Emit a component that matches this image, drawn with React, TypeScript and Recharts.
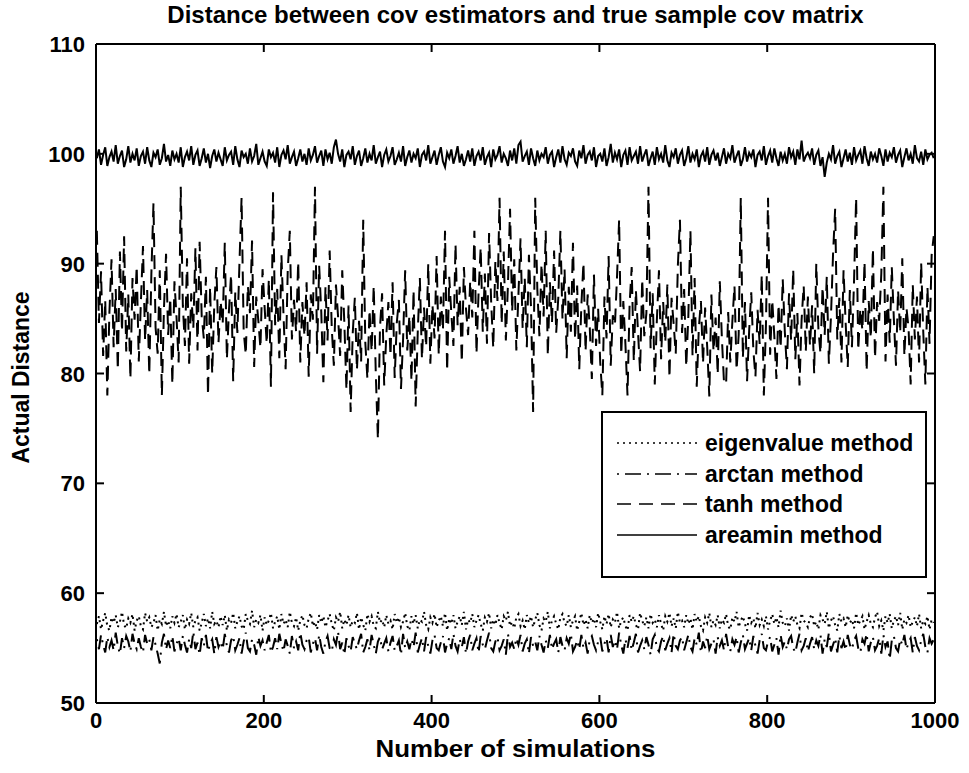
import { LineChart, Line, XAxis, YAxis, ReferenceLine, Legend } from "recharts";

const FONT = '"Liberation Sans", Arial, Helvetica, sans-serif';

const TITLE = "Distance between cov estimators and true sample cov matrix";
const X_LABEL = "Number of simulations";
const Y_LABEL = "Actual Distance";

const X_TICKS = [0, 200, 400, 600, 800, 1000];
const Y_TICKS = [50, 60, 70, 80, 90, 100, 110];

const SIM_STEP = 2.5;

const EIGENVALUE = [
  57.2, 57.9, 56.7, 57.5, 58.2, 57.0, 56.6, 57.8, 57.3, 58.0, 56.9, 57.4, 58.3, 57.1, 56.8, 57.7, 57.3, 58.1, 56.6, 57.5,
  57.9, 57.0, 56.7, 58.2, 57.4, 57.8, 56.9, 57.3, 58.0, 56.6, 57.6, 57.2, 58.3, 57.0, 57.5, 56.8, 57.9, 57.3, 58.1, 56.9,
  57.4, 58.0, 56.7, 57.6, 57.2, 58.2, 56.9, 57.5, 57.8, 56.6, 57.3, 58.1, 57.0, 57.7, 56.8, 58.3, 57.2, 57.5, 56.9, 57.9,
  57.1, 58.0, 56.6, 57.6, 57.3, 58.2, 56.8, 57.4, 57.9, 57.0, 56.7, 58.1, 57.5, 57.2, 58.4, 56.9, 57.6, 57.3, 58.0, 56.6,
  57.8, 57.1, 57.5, 58.2, 56.8, 57.4, 57.9, 56.7, 58.1, 57.2, 57.6, 56.9, 58.3, 57.3, 57.0, 57.8, 56.6, 57.5, 58.0, 57.1,
  56.8, 57.7, 58.2, 57.0, 57.4, 56.7, 58.0, 57.3, 57.9, 56.9, 57.5, 58.1, 57.2, 56.6, 57.8, 57.4, 58.3, 56.8, 57.6, 57.1,
  58.0, 56.9, 57.5, 57.3, 58.2, 56.7, 57.8, 57.1, 56.6, 58.1, 57.4, 57.9, 57.0, 56.8, 58.3, 57.3, 57.6, 56.9, 58.0, 57.2,
  57.5, 56.7, 58.1, 57.3, 57.8, 56.9, 57.4, 58.2, 57.0, 56.6, 57.9, 57.2, 58.0, 56.8, 57.6, 57.4, 58.3, 57.1, 56.7, 57.8,
  57.3, 58.1, 56.9, 57.5, 57.9, 57.0, 58.2, 56.6, 57.7, 57.2, 58.0, 56.8, 57.4, 57.9, 57.1, 58.3, 56.7, 57.6, 57.3, 58.1,
  56.9, 57.5, 58.0, 57.2, 56.6, 57.8, 57.4, 58.2, 56.8, 57.6, 57.1, 58.0, 57.3, 56.7, 57.9, 57.5, 58.3, 57.0, 57.4, 56.8,
  57.8, 58.1, 57.0, 57.5, 56.7, 58.0, 57.3, 57.9, 56.9, 57.6, 58.2, 57.1, 56.6, 57.7, 57.4, 58.3, 56.8, 57.5, 57.9, 57.2,
  56.7, 57.8, 58.1, 57.3, 57.0, 58.0, 56.9, 57.5, 57.9, 56.6, 57.4, 58.2, 57.1, 57.6, 56.8, 58.0, 57.3, 57.7, 56.9, 58.2,
  57.4, 56.7, 57.9, 57.2, 58.1, 56.9, 57.6, 57.3, 58.3, 56.8, 57.5, 57.8, 57.0, 56.6, 58.0, 57.4, 57.9, 57.1, 56.7, 58.2,
  57.5, 57.0, 57.8, 56.8, 58.1, 57.3, 57.6, 56.9, 58.0, 57.2, 56.6, 57.9, 57.4, 58.2, 57.0, 57.7, 56.8, 58.3, 57.3, 57.5,
  56.9, 58.0, 57.2, 57.7, 56.7, 58.1, 57.4, 57.9, 57.0, 56.6, 57.8, 57.3, 58.2, 56.9, 57.5, 57.1, 58.0, 56.8, 57.6, 57.3,
  58.1, 57.0, 56.7, 57.8, 57.4, 58.3, 56.9, 57.5, 57.9, 57.2, 56.6, 58.0, 57.3, 57.7, 56.8, 58.2, 57.1, 57.6, 57.0, 57.9,
  56.7, 57.5, 58.1, 57.2, 57.8, 56.9, 58.4, 57.3, 57.0, 57.7, 56.6, 58.0, 57.4, 57.9, 57.1, 56.8, 58.2, 57.5, 57.3, 56.9,
  57.8, 58.1, 57.0, 57.4, 56.7, 58.0, 57.6, 57.2, 58.3, 56.8, 57.5, 57.9, 57.1, 56.6, 58.1, 57.4, 57.7, 56.9, 58.0, 57.3,
  57.6, 56.8, 58.2, 57.1, 57.5, 57.9, 56.7, 57.4, 58.0, 57.2, 56.9, 57.8, 58.3, 57.0, 57.5, 56.6, 57.9, 57.3, 58.1, 56.8,
  57.5, 57.9, 57.1, 58.2, 56.7, 57.6, 57.3, 58.0, 56.9, 57.4, 57.8, 57.0, 58.1, 56.8, 57.5, 57.2, 57.9, 56.7, 57.6, 57.3,
];

const ARCTAN = [
  55.8, 54.9, 56.2, 55.3, 54.6, 56.0, 55.1, 55.7, 54.8, 56.4, 55.2, 54.5, 55.9, 55.0, 56.1, 55.6, 54.7, 56.3, 55.4, 54.9,
  55.9, 55.1, 54.6, 56.2, 55.4, 55.8, 54.8, 56.0, 55.3, 54.5, 53.6, 55.5, 56.3, 54.9, 55.7, 55.0, 56.1, 54.7, 55.4, 55.9,
  54.8, 56.1, 55.3, 54.6, 55.8, 55.0, 56.5, 54.9, 55.5, 54.4, 55.9, 55.2, 56.2, 54.7, 55.4, 55.8, 54.5, 56.0, 55.1, 55.6,
  54.9, 56.3, 55.2, 54.6, 55.7, 56.1, 54.8, 55.3, 55.9, 54.5, 55.6, 56.4, 55.0, 54.7, 55.8, 55.3, 54.4, 56.0, 55.2, 55.7,
  54.8, 55.5, 56.2, 54.6, 55.1, 55.9, 54.9, 56.3, 55.4, 54.7, 55.8, 55.2, 54.5, 56.1, 55.0, 55.6, 54.8, 56.4, 55.3, 54.9,
  55.7, 56.0, 54.6, 55.4, 55.9, 54.8, 56.2, 55.1, 54.5, 55.6, 56.1, 55.0, 54.7, 55.8, 55.3, 56.5, 54.9, 55.5, 54.4, 55.9,
  55.2, 54.7, 56.0, 55.4, 54.9, 55.7, 56.3, 54.6, 55.1, 55.8, 54.8, 56.2, 55.3, 54.5, 55.6, 56.0, 54.9, 55.4, 55.9, 54.7,
  55.5, 56.1, 54.8, 55.2, 55.7, 54.4, 56.3, 55.0, 55.6, 54.9, 55.8, 55.1, 56.4, 54.6, 55.3, 55.9, 54.7, 56.0, 55.2, 54.5,
  55.7, 56.2, 55.0, 54.8, 55.5, 56.1, 54.6, 55.4, 55.9, 54.9, 56.3, 55.2, 54.7, 55.8, 55.1, 56.0, 54.5, 55.6, 56.2, 54.8,
  55.4, 55.9, 54.6, 56.1, 55.3, 54.9, 55.7, 56.4, 55.0, 54.7, 55.6, 56.0, 54.8, 55.2, 55.8, 54.4, 56.3, 55.1, 55.5, 54.9,
  55.9, 55.3, 56.2, 54.7, 55.4, 55.8, 54.5, 56.0, 55.2, 55.6, 54.8, 56.1, 55.3, 54.6, 55.7, 55.0, 56.2, 54.9, 55.4, 55.8,
  54.6, 56.0, 55.2, 54.8, 55.9, 55.4, 56.3, 54.7, 55.1, 55.7, 54.9, 56.2, 55.0, 55.5, 54.5, 55.8, 56.1, 55.3, 54.8, 55.6,
  56.0, 54.7, 55.4, 55.9, 54.6, 56.2, 55.1, 55.7, 54.9, 56.4, 55.3, 54.5, 55.8, 55.0, 56.1, 54.8, 55.5, 56.3, 54.6, 55.2,
  55.7, 54.9, 56.0, 55.3, 54.4, 55.8, 56.2, 55.0, 54.7, 55.6, 56.1, 54.8, 55.4, 55.9, 54.6, 56.3, 55.2, 54.9, 55.7, 56.0,
  54.8, 55.5, 56.2, 55.1, 54.7, 55.9, 55.3, 56.4, 54.6, 55.6, 55.0, 56.1, 54.9, 55.4, 55.8, 54.5, 56.0, 55.2, 55.7, 54.8,
  56.3, 55.1, 54.7, 55.8, 55.3, 56.0, 54.6, 55.5, 56.2, 54.9, 55.4, 55.9, 54.8, 56.1, 55.2, 54.5, 55.7, 56.3, 55.0, 54.8,
  55.6, 56.0, 54.7, 55.3, 55.9, 54.4, 56.2, 55.1, 55.6, 54.9, 55.8, 56.1, 55.0, 54.6, 55.5, 56.3, 54.8, 55.2, 55.9, 54.7,
  55.4, 56.0, 54.9, 55.7, 55.2, 56.2, 54.5, 55.8, 55.1, 56.4, 54.7, 55.3, 55.9, 54.6, 56.1, 55.0, 55.6, 54.8, 56.2, 55.3,
  54.9, 55.7, 56.1, 55.0, 54.6, 55.8, 55.4, 56.3, 54.7, 55.5, 56.0, 54.8, 55.2, 55.9, 54.5, 56.2, 55.1, 55.6, 54.0, 55.7,
  56.1, 55.0, 54.7, 55.8, 55.3, 56.2, 54.9, 55.5, 55.9, 54.6, 56.0, 55.2, 54.8, 55.7, 56.3, 55.1, 54.6, 55.9, 55.4, 55.8,
];

const TANH = [
  93, 84.6, 89.3, 81.6, 86.7, 78, 85.6, 90.4, 82.4, 87.7, 80.3, 91.1, 83.8, 92.5, 82.0, 87.2, 79.5, 88.7, 84.9, 89.8,
  81.1, 86.5, 91.6, 83.0, 87.6, 79.9, 89.1, 95.5, 84.2, 81.8, 89.4, 78, 85.9, 90.9, 83.5, 86.9, 79.0, 88.4, 85.1, 81.0,
  97, 86.2, 82.5, 90.5, 80.9, 87.3, 84.1, 91.4, 82.1, 92, 85.2, 83.2, 88.8, 78, 87.9, 80.0, 86.3, 89.7, 82.8, 86.6,
  84.5, 91.9, 81.3, 85.8, 89.0, 79.3, 87.4, 83.7, 90.1, 96, 83.9, 81.7, 88.0, 85.5, 92.1, 80.6, 87.0, 84.8, 82.3, 89.5,
  86.0, 82.7, 88.6, 78.8, 96.5, 84.4, 87.7, 81.4, 90.8, 85.3, 80.4, 89.3, 93, 83.1, 86.7, 83.8, 90.2, 81.0, 86.5, 83.4,
  88.3, 79.7, 87.2, 84.9, 97, 81.8, 89.8, 85.6, 79.2, 87.9, 83.0, 91.2, 84.1, 80.7, 88.1, 85.2, 81.6, 89.4, 84.6, 78.5,
  86.2, 76.5, 83.7, 86.9, 80.3, 84.8, 81.1, 94, 82.8, 79.5, 85.8, 82.0, 88.0, 79.9, 74, 84.2, 87.3, 78.9, 83.5, 86.5,
  81.6, 88.3, 79.6, 84.6, 86.7, 78.6, 83.1, 89.4, 82.1, 85.3, 79.3, 87.6, 77, 83.8, 88.7, 81.3, 86.0, 82.4, 90.0, 80.9,
  86.3, 83.2, 90.7, 81.7, 87.0, 83.9, 93, 80.2, 88.8, 85.5, 82.5, 91.8, 84.4, 87.9, 81.0, 89.7, 85.9, 83.5, 88.4, 85.1,
  93, 81.8, 87.4, 91.5, 83.8, 89.1, 82.7, 92.8, 86.5, 82.3, 90.2, 86.6, 96, 84.5, 91.1, 83.0, 88.1, 95, 85.6, 90.4,
  82.1, 87.2, 92.3, 84.1, 88.7, 82.4, 90.8, 86.0, 76.5, 96, 87.7, 83.4, 90.0, 85.2, 93.0, 81.6, 88.3, 84.6, 91.2, 83.7,
  86.9, 93, 84.9, 89.5, 81.4, 87.9, 83.8, 91.9, 83.1, 88.0, 80.4, 86.2, 90.1, 82.0, 87.2, 84.2, 79.5, 89.0, 82.5, 85.9,
  81.0, 78, 87.0, 83.2, 90.7, 80.7, 85.3, 84.4, 88.8, 94, 81.7, 86.6, 82.7, 78, 86.3, 89.7, 81.1, 87.6, 83.8, 80.2,
  88.6, 83.4, 85.5, 97, 82.3, 87.3, 79.0, 84.9, 89.4, 81.3, 86.5, 82.8, 88.1, 79.6, 86.9, 84.5, 81.8, 89.8, 94, 83.7,
  87.7, 80.6, 85.2, 93, 81.6, 88.7, 78.8, 84.1, 86.6, 80.9, 86.0, 82.4, 77.9, 87.2, 82.0, 85.1, 79.9, 88.4, 83.2, 79.2,
  79, 85.6, 81.0, 84.8, 88.0, 80.3, 83.5, 96, 81.4, 86.5, 79.3, 83.9, 87.4, 82.1, 79.7, 85.8, 82.7, 89.0, 78, 84.4,
  96, 81.7, 86.7, 83.4, 79.5, 86.3, 82.3, 88.6, 83.8, 80.4, 87.3, 83.0, 89.5, 81.3, 85.5, 78.9, 84.9, 88.0, 82.0, 87.0,
  82.5, 86.2, 80.0, 90.0, 84.1, 81.8, 87.9, 83.5, 88.8, 80.9, 85.2, 90.9, 95, 83.1, 86.9, 81.0, 89.4, 84.6, 80.6, 87.6,
  82.4, 88.4, 96, 82.1, 85.9, 83.9, 90.2, 80.2, 86.6, 83.2, 91.4, 81.4, 86.5, 84.8, 89.1, 97, 81.1, 87.2, 82.8, 89.7,
  84.9, 80.7, 87.6, 83.7, 90.5, 81.6, 86.0, 84.1, 79.0, 88.1, 83.1, 87.0, 81.0, 90.1, 83.8, 79, 87.9, 82.7, 90.8, 92.5,
];

const AREAMIN = [
  99.6, 100.4, 99.0, 99.9, 100.6, 98.9, 99.7, 100.2, 99.3, 100.8, 99.1, 99.8, 100.3, 98.8, 99.5, 100.7, 99.2, 100.0, 99.4, 100.5,
  98.9, 99.8, 100.2, 99.1, 100.6, 99.4, 98.8, 100.1, 99.7, 100.4, 99.0, 99.6, 100.9, 99.3, 99.9, 98.9, 100.3, 99.5, 100.0, 99.2,
  100.6, 98.8, 99.7, 100.2, 99.4, 100.7, 99.0, 99.9, 100.3, 98.9, 99.6, 100.5, 99.2, 100.0, 98.7, 99.8, 100.4, 99.3, 100.1, 99.5,
  98.9, 100.6, 99.4, 99.9, 100.2, 99.0, 100.7, 99.5, 98.8, 100.3, 99.7, 100.0, 99.1, 100.5, 99.3, 99.8, 100.9, 99.0, 99.6, 100.2,
  99.3, 98.9, 100.4, 99.7, 100.1, 99.2, 100.6, 98.8, 99.9, 100.3, 99.5, 100.8, 99.1, 99.7, 100.2, 98.9, 99.6, 100.4, 99.3, 100.0,
  99.0, 100.5, 99.4, 99.9, 100.7, 99.2, 99.8, 100.3, 98.9, 100.4, 99.5, 100.1, 99.1, 100.6, 101.3, 100.0, 99.3, 100.4, 98.8, 99.9,
  100.2, 99.5, 100.7, 99.0, 99.8, 100.3, 98.9, 99.6, 100.5, 99.2, 100.0, 99.4, 100.8, 99.1, 99.7, 100.2, 98.8, 99.9, 100.4, 99.3,
  99.8, 100.6, 99.0, 99.5, 100.1, 99.3, 100.7, 98.9, 99.7, 100.3, 99.2, 100.0, 99.6, 100.5, 98.8, 99.9, 100.2, 99.4, 100.8, 99.1,
  99.7, 100.3, 99.0, 99.9, 100.6, 99.3, 98.8, 100.1, 99.6, 100.4, 99.1, 99.8, 100.7, 99.2, 100.0, 98.9, 99.5, 100.3, 99.3, 100.5,
  98.9, 99.8, 100.2, 99.4, 100.6, 99.0, 99.7, 100.1, 98.8, 100.4, 99.5, 99.9, 100.7, 99.2, 100.0, 99.6, 98.9, 100.3, 99.4, 100.5,
  99.1, 100.8, 101.1, 99.3, 99.8, 100.2, 99.0, 100.5, 99.6, 98.9, 100.3, 99.4, 100.0, 99.7, 100.6, 99.1, 99.9, 100.2, 98.8, 99.7,
  100.4, 99.2, 100.7, 99.5, 99.0, 100.1, 99.8, 100.5, 99.3, 98.9, 100.3, 99.6, 100.8, 99.1, 99.9, 100.2, 99.4, 100.6, 98.8, 99.8,
  100.0, 99.3, 100.5, 98.9, 99.7, 100.9, 99.2, 100.1, 99.5, 100.4, 98.8, 99.9, 100.3, 99.0, 100.6, 99.4, 99.8, 100.2, 99.1, 100.7,
  99.3, 99.9, 100.4, 98.9, 99.6, 100.2, 99.0, 100.6, 99.5, 100.0, 99.2, 100.8, 99.4, 98.8, 100.1, 99.7, 100.5, 99.1, 99.9, 100.3,
  98.9, 99.6, 100.7, 99.2, 100.0, 99.5, 100.4, 98.8, 99.8, 100.2, 99.3, 100.6, 99.0, 99.9, 100.3, 99.4, 100.1, 98.9, 99.7, 100.5,
  99.1, 100.0, 99.6, 100.8, 99.2, 99.8, 100.3, 98.9, 99.5, 100.6, 99.3, 100.1, 99.7, 100.4, 98.8, 99.9, 100.2, 99.4, 100.7, 99.0,
  99.8, 100.3, 99.2, 100.5, 99.6, 98.9, 100.2, 99.4, 100.0, 99.1, 100.6, 99.7, 100.2, 99.0, 100.4, 99.5, 101.2, 99.3, 99.8, 100.1,
  99.6, 100.5, 99.0, 99.9, 100.3, 98.9, 99.7, 97.9, 99.2, 100.0, 99.5, 100.8, 99.1, 99.8, 100.2, 98.8, 99.6, 100.4, 99.3, 100.1,
  99.0, 100.6, 99.4, 99.9, 100.3, 99.1, 100.7, 99.6, 98.9, 100.2, 99.5, 100.0, 99.2, 100.5, 99.8, 98.9, 100.4, 99.3, 100.1, 99.7,
  100.6, 99.2, 99.9, 100.3, 98.8, 99.7, 100.5, 99.4, 100.0, 99.1, 100.8, 99.6, 99.3, 100.2, 99.0, 100.4, 99.5, 99.9, 100.1, 99.6,
];

const SERIES = [
  { key: "eigenvalue", name: "eigenvalue method", dash: "2 4" },
  { key: "arctan", name: "arctan method", dash: "2 6 16 6" },
  { key: "tanh", name: "tanh method", dash: "14 8" },
  { key: "areamin", name: "areamin method", dash: undefined },
];

const data = AREAMIN.map((v, i) => ({
  sim: 1 + i * SIM_STEP,
  eigenvalue: EIGENVALUE[i],
  arctan: ARCTAN[i],
  tanh: TANH[i],
  areamin: v,
}));

const W = 969;
const H = 773;
const PLOT_LEFT = 96;
const PLOT_TOP = 44;
const PLOT_RIGHT = 935;
const PLOT_BOTTOM = 703;
const PLOT_W = PLOT_RIGHT - PLOT_LEFT;
const PLOT_H = PLOT_BOTTOM - PLOT_TOP;
const TICK_LEN = 8;

// MATLAB style: ticks point inward, mirrored on the opposite side
function XTick(props: any) {
  const { x, y, payload } = props;
  return (
    <g>
      <line x1={x} x2={x} y1={y} y2={y - TICK_LEN} stroke="#000" strokeWidth={2} />
      <line x1={x} x2={x} y1={y - PLOT_H} y2={y - PLOT_H + TICK_LEN} stroke="#000" strokeWidth={2} />
      <text x={x} y={y + 25} textAnchor="middle" fontFamily={FONT} fontWeight="bold" fontSize={22} fill="#000">
        {payload.value}
      </text>
    </g>
  );
}

function YTick(props: any) {
  const { x, y, payload } = props;
  return (
    <g>
      <line x1={x} x2={x + TICK_LEN} y1={y} y2={y} stroke="#000" strokeWidth={2} />
      <line x1={x + PLOT_W} x2={x + PLOT_W - TICK_LEN} y1={y} y2={y} stroke="#000" strokeWidth={2} />
      <text x={x - 11} y={y + 8} textAnchor="end" fontFamily={FONT} fontWeight="bold" fontSize={22} fill="#000">
        {payload.value}
      </text>
    </g>
  );
}

function LegendBox() {
  return (
    <div
      style={{
        width: 322,
        height: 148,
        border: "2px solid #000",
        background: "#fff",
        paddingTop: 15,
        boxSizing: "content-box",
      }}
    >
      {SERIES.map((s) => (
        <div key={s.key} style={{ display: "flex", alignItems: "center", height: 30.5 }}>
          <svg width={94} height={10} style={{ display: "block" }}>
            <line x1={14} x2={94} y1={5} y2={5} stroke="#000" strokeWidth={1.5} strokeDasharray={s.dash} />
          </svg>
          <span style={{ marginLeft: 8, fontFamily: FONT, fontWeight: "bold", fontSize: 23, lineHeight: "30px" }}>
            {s.name}
          </span>
        </div>
      ))}
    </div>
  );
}

export default function App() {
  return (
    <div style={{ position: "absolute", left: 0, top: 0, width: W, height: H, background: "#fff" }}>
      <div
        style={{
          position: "absolute",
          left: PLOT_LEFT - 40,
          width: PLOT_W + 80,
          top: 2,
          textAlign: "center",
          fontFamily: FONT,
          fontWeight: "bold",
          fontSize: 24,
          lineHeight: "26px",
          zIndex: 2,
        }}
      >
        {TITLE}
      </div>
      <LineChart
        width={W}
        height={H}
        data={data}
        margin={{ top: PLOT_TOP, right: W - PLOT_RIGHT, left: 0, bottom: 0 }}
      >
        <XAxis
          dataKey="sim"
          type="number"
          domain={[0, 1000]}
          ticks={X_TICKS}
          interval={0}
          height={H - PLOT_BOTTOM}
          tickSize={0}
          tickMargin={0}
          tick={<XTick />}
          axisLine={{ stroke: "#000", strokeWidth: 2 }}
          label={{
            content: () => (
              <text
                x={PLOT_LEFT + PLOT_W / 2}
                y={757}
                textAnchor="middle"
                fontFamily={FONT}
                fontWeight="bold"
                fontSize={24}
                textLength={280}
                lengthAdjust="spacingAndGlyphs"
                fill="#000"
              >
                {X_LABEL}
              </text>
            ),
          }}
        />
        <YAxis
          type="number"
          domain={[50, 110]}
          ticks={Y_TICKS}
          interval={0}
          width={PLOT_LEFT}
          tickSize={0}
          tickMargin={0}
          tick={<YTick />}
          axisLine={{ stroke: "#000", strokeWidth: 2 }}
          label={{
            content: () => (
              <text
                transform={`translate(29, ${PLOT_TOP + PLOT_H / 2 + 4}) rotate(-90)`}
                textAnchor="middle"
                fontFamily={FONT}
                fontWeight="bold"
                fontSize={23}
                textLength={172}
                lengthAdjust="spacingAndGlyphs"
                fill="#000"
              >
                {Y_LABEL}
              </text>
            ),
          }}
        />
        <ReferenceLine y={110} stroke="#000" strokeWidth={2} />
        <ReferenceLine x={1000} stroke="#000" strokeWidth={2} />
        <Legend
          layout="vertical"
          align="center"
          verticalAlign="middle"
          content={() => <LegendBox />}
          wrapperStyle={{ left: 601, top: 411, width: 326, height: 152 }}
        />
        {SERIES.slice()
          .reverse()
          .map((s) => (
            <Line
              key={s.key}
              type="linear"
              dataKey={s.key}
              name={s.name}
              stroke="#000"
              strokeWidth={2}
              strokeDasharray={s.dash}
              dot={false}
              activeDot={false}
              isAnimationActive={false}
            />
          ))}
      </LineChart>
    </div>
  );
}
